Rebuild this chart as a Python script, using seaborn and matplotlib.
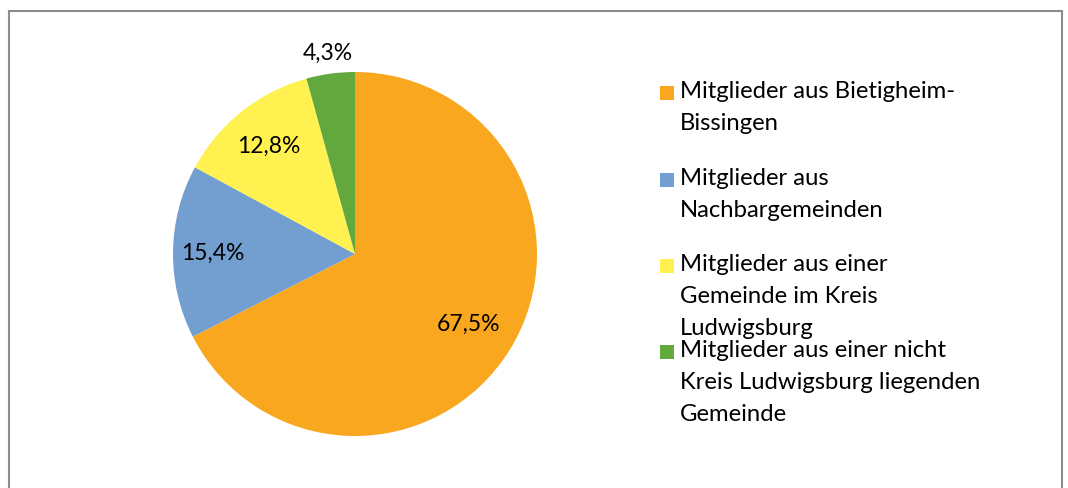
import matplotlib
matplotlib.use("Agg")
import matplotlib.pyplot as plt
import seaborn as sns
import numpy as np
from matplotlib.patches import Rectangle

sns.set_theme(style="white")
plt.rcParams['font.family'] = ['Lato', 'DejaVu Sans']

categories = [
    "Mitglieder aus Bietigheim-\nBissingen",
    "Mitglieder aus\nNachbargemeinden",
    "Mitglieder aus einer\nGemeinde im Kreis\nLudwigsburg",
    "Mitglieder aus einer nicht\nKreis Ludwigsburg liegenden\nGemeinde",
]
values = [67.5, 15.4, 12.8, 4.3]
value_labels = ["67,5%", "15,4%", "12,8%", "4,3%"]
colors = ["#F9A71E", "#729FCF", "#FFF250", "#62A83D"]

W, H = 1068, 489
fig = plt.figure(figsize=(W / 100, H / 100), dpi=100)
fig.patch.set_facecolor("white")

cx, cy, r = 355, 255, 182
ax = fig.add_axes([(cx - r) / W, (H - cy - r) / H, 2 * r / W, 2 * r / H])
wedges, _ = ax.pie(values, colors=colors, startangle=90, counterclock=False,
                   radius=1, wedgeprops=dict(linewidth=0))
ax.set_xlim(-1, 1)
ax.set_ylim(-1, 1)
ax.set_aspect("equal")
ax.axis("off")

dists = [0.73, 0.78, 0.76, 1.12]
for w, lab, d in zip(wedges, value_labels, dists):
    ang = np.deg2rad((w.theta1 + w.theta2) / 2)
    ax.text(d * np.cos(ang), d * np.sin(ang), lab, ha="center", va="center",
            fontsize=16.5, color="black", clip_on=False)

# legend (marker aligned with first line of each wrapped label)
entry_centers = [94, 181, 267, 353]
msize = 14
for lab, col, yc in zip(categories, colors, entry_centers):
    fig.patches.append(Rectangle((660 / W, (H - yc - msize / 2) / H), msize / W, msize / H,
                                 transform=fig.transFigure, facecolor=col,
                                 edgecolor="none"))
    fig.text(680 / W, (H - yc + 13) / H, lab, ha="left", va="top",
             fontsize=17.2, linespacing=1.65, color="black")

# figure border
fig.patches.append(Rectangle((9 / W, -0.1), (1062 - 9) / W, 1.1 - 12 / H,
                             transform=fig.transFigure, fill=False,
                             edgecolor="#8C8C8C", linewidth=1.5))

fig.savefig("out.png", dpi=100)
